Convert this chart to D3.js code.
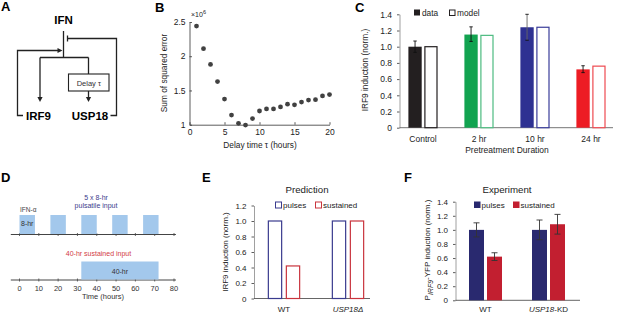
<!DOCTYPE html>
<html><head><meta charset="utf-8">
<script src="https://cdn.jsdelivr.net/npm/d3@7/dist/d3.min.js"></script>
<style>
body{margin:0;background:#fff}
svg{display:block;font-family:"Liberation Sans",Arial,Helvetica,sans-serif}
</style>
</head><body>
<svg id="c" width="617" height="314"></svg>
<script>
// ---------------- DATA ----------------
const delayTimes = [1,2,3,4,5,6,7,8,9,10,11,12,13,14,15,16,17,18,19,20];
const sseValues  = [2.44,2.11,1.88,1.63,1.375,1.14,1.02,0.995,1.09,1.20,1.23,1.23,1.26,1.30,1.29,1.33,1.36,1.365,1.42,1.44];
const sseTicks = [1,1.5,2,2.5];
const delayTicks = [0,5,10,15,20];

const pretreatCategories = ["Control","2 hr","10 hr","24 hr"];
const dataValues  = [1.00,1.15,1.24,0.72];
const dataErrLow  = [0.93,1.065,1.08,0.68];
const dataErrHigh = [1.07,1.245,1.40,0.765];
const modelValues = [1.00,1.14,1.24,0.76];
const pretreatColors = ["#231f20","#12a350","#2e3192","#ed1c24"];
const modelStroke = ["#231f20","#4dbb80","#3a3d99","#ee4a50"];
const inductionTicksC = [0,0.2,0.4,0.6,0.8,1.0,1.2,1.4];

const pulseStarts = [0,16,32,48,64];
const pulseLength = 8;
const sustainedStart = 32;
const sustainedLength = 40;
const timeTicks = [0,10,20,30,40,50,60,70,80];

const predCategories = ["WT","USP18Δ"];
const predPulses = [1.0,1.0];
const predSustained = [0.42,1.0];
const predTicks = [0,0.2,0.4,0.6,0.8,1.0,1.2];

const expCategories = ["WT","USP18-KD"];
const expPulses = [1.0,1.0];
const expPulsesErr = [0.10,0.14];
const expSustained = [0.62,1.08];
const expSustainedErr = [0.055,0.14];
const expTicks = [0,0.2,0.4,0.6,0.8,1.0,1.2,1.4];

// ---------------- HELPERS ----------------
const svg = d3.select("#c");
const fmt1 = d => d === 0 ? "0" : d3.format(".1f")(d);
const AX = "#333", TX = "#222";

function panelLabel(t, x, y){
  svg.append("text").attr("x",x).attr("y",y).attr("font-size",13).attr("font-weight","bold").attr("fill","#000").text(t);
}
function styleAxis(g, fs){
  g.selectAll("path,line").attr("stroke",AX).attr("stroke-width",0.8);
  g.selectAll("text").attr("fill",TX).attr("font-size",fs).attr("font-family",null);
  g.attr("font-family",null);
}

// ---------------- PANEL A ----------------
(function(){
  panelLabel("A", 1, 11);
  const g = svg.append("g").attr("stroke","#222").attr("stroke-width",1.3).attr("fill","none");
  const line = pts => g.append("path").attr("d", d3.line()(pts));
  const arrow = (x,y,dir) => {
    let p;
    if(dir==="down") p=[[x-2.6,y-5],[x+2.6,y-5],[x,y]];
    else p=[[x-5,y-2.6],[x-5,y+2.6],[x,y]];
    svg.append("path").attr("d", d3.line()(p)+"Z").attr("fill","#222");
  };
  svg.append("text").attr("x",63.5).attr("y",23.5).attr("text-anchor","middle").attr("font-size",11.5).attr("font-weight","bold").text("IFN");
  line([[63.5,31],[63.5,57.5]]);
  // inhibition from USP18
  line([[67.5,35.5],[67.5,41.5]]);
  line([[67.5,38.5],[116.5,38.5],[116.5,115.5],[110.5,115.5]]);
  // feedback IRF9
  line([[23,115.5],[17.5,115.5],[17.5,50.5],[58,50.5]]);
  arrow(62.5,50.5,"right");
  // branch
  line([[40,57.5],[88.5,57.5]]);
  line([[40,57.5],[40,97]]); arrow(40,102,"down");
  line([[88.5,57.5],[88.5,74]]);
  g.append("rect").attr("x",68.5).attr("y",74).attr("width",40.5).attr("height",17).attr("stroke-width",1.1);
  svg.append("text").attr("x",88.8).attr("y",85.5).attr("text-anchor","middle").attr("font-size",7.5).attr("fill","#333").text("Delay τ");
  line([[88.5,91],[88.5,97]]); arrow(88.5,102,"down");
  svg.append("text").attr("x",38.5).attr("y",119.5).attr("text-anchor","middle").attr("font-size",11.5).attr("font-weight","bold").text("IRF9");
  svg.append("text").attr("x",90).attr("y",119.5).attr("text-anchor","middle").attr("font-size",11.5).attr("font-weight","bold").text("USP18");
})();

// ---------------- PANEL B ----------------
(function(){
  panelLabel("B", 155, 12);
  const x = d3.scaleLinear().domain([0,20]).range([189.5,329.5]);
  const y = d3.scaleLinear().domain([1,2.5]).range([124.7,22]);
  const gx = svg.append("g").attr("transform","translate(0,124.7)")
    .call(d3.axisBottom(x).tickValues(delayTicks).tickSizeInner(-2.5).tickSizeOuter(0).tickPadding(4).tickFormat(d3.format("")));
  styleAxis(gx, 8.5);
  const gy = svg.append("g").attr("transform","translate(189.5,0)")
    .call(d3.axisLeft(y).tickValues(sseTicks).tickSizeInner(-2.5).tickSizeOuter(0).tickPadding(4).tickFormat(d3.format("")));
  styleAxis(gy, 8.5);
  const t = svg.append("text").attr("x",191).attr("y",17).attr("font-size",7).attr("fill",TX);
  t.append("tspan").text("×10");
  t.append("tspan").attr("dy",-3).attr("font-size",5.5).text("6");
  svg.append("text").attr("transform","translate(167,73) rotate(-90)").attr("text-anchor","middle").attr("font-size",8.3).attr("fill",TX).text("Sum of squared error");
  svg.append("text").attr("x",260).attr("y",148).attr("text-anchor","middle").attr("font-size",8.3).attr("fill",TX).text("Delay time τ (hours)");
  svg.append("g").selectAll("circle").data(delayTimes).join("circle")
    .attr("cx",d=>x(d)).attr("cy",(d,i)=>y(sseValues[i])).attr("r",2.4).attr("fill","#414141");
})();

// ---------------- PANEL C ----------------
(function(){
  panelLabel("C", 355, 12);
  const y = d3.scaleLinear().domain([0,1.4]).range([127.7,14.3]);
  const x = d3.scaleBand().domain(pretreatCategories).range([395,619]).padding(0);
  const x0 = 399.5;
  const gy = svg.append("g").attr("transform",`translate(${x0},0)`)
    .call(d3.axisLeft(y).tickValues(inductionTicksC).tickSizeInner(2.5).tickSizeOuter(0).tickPadding(5).tickFormat(fmt1));
  styleAxis(gy, 8.5);
  gy.select(".domain").attr("stroke","#888");
  svg.append("line").attr("x1",x0).attr("x2",613).attr("y1",127.7).attr("y2",127.7).attr("stroke","#666").attr("stroke-width",0.9);
  const bw = 13.3, gap = 2.6;
  const g = svg.append("g");
  g.selectAll("rect.data").data(pretreatCategories).join("rect")
    .attr("x",d=>x(d)+x.bandwidth()/2-bw-gap/2).attr("width",bw)
    .attr("y",(d,i)=>y(dataValues[i])).attr("height",(d,i)=>y(0)-y(dataValues[i]))
    .attr("fill",(d,i)=>pretreatColors[i]);
  g.selectAll("rect.model").data(pretreatCategories).join("rect")
    .attr("x",d=>x(d)+x.bandwidth()/2+gap/2+0.6).attr("width",bw-1.2)
    .attr("y",(d,i)=>y(modelValues[i])).attr("height",(d,i)=>y(0)-y(modelValues[i]))
    .attr("fill","#fff").attr("stroke",(d,i)=>modelStroke[i]).attr("stroke-width",1.2);
  // error bars
  pretreatCategories.forEach((c,i)=>{
    const cx = x(c)+x.bandwidth()/2-bw/2-gap/2;
    const eg = g.append("g").attr("stroke","#111").attr("stroke-width",0.9);
    eg.append("line").attr("x1",cx).attr("x2",cx).attr("y1",y(dataErrLow[i])).attr("y2",y(dataErrHigh[i])).attr("stroke", i===2?"#666":"#111");
    [dataErrLow[i],dataErrHigh[i]].forEach(v=>eg.append("line").attr("x1",cx-1.7).attr("x2",cx+1.7).attr("y1",y(v)).attr("y2",y(v)));
  });
  // category labels
  svg.append("g").selectAll("text").data(pretreatCategories).join("text")
    .attr("x",d=>x(d)+x.bandwidth()/2).attr("y",142).attr("text-anchor","middle").attr("font-size",8.5).attr("fill",TX).text(d=>d);
  svg.append("text").attr("x",507).attr("y",153).attr("text-anchor","middle").attr("font-size",8.5).attr("fill",TX).text("Pretreatment Duration");
  svg.append("text").attr("transform","translate(368,70) rotate(-90)").attr("text-anchor","middle").attr("font-size",8.3).attr("fill",TX).text("IRF9 induction (norm.)");
  // legend
  svg.append("rect").attr("x",414).attr("y",9.5).attr("width",6).attr("height",6).attr("fill","#231f20");
  svg.append("text").attr("x",422).attr("y",15.5).attr("font-size",8.3).attr("fill",TX).text("data");
  svg.append("rect").attr("x",449.5).attr("y",10).attr("width",5.5).attr("height",5.5).attr("fill","#fff").attr("stroke","#231f20").attr("stroke-width",1);
  svg.append("text").attr("x",457).attr("y",15.5).attr("font-size",8.3).attr("fill",TX).text("model");
})();

// ---------------- PANEL D ----------------
(function(){
  panelLabel("D", 1, 182);
  const x = d3.scaleLinear().domain([0,80]).range([19.5,174]);
  const blue = "#a3c8ec";
  const axisY = [234.5, 280];
  axisY.forEach((ay,k)=>{
    svg.append("line").attr("x1",x(-4.5)).attr("x2",x(81)).attr("y1",ay).attr("y2",ay).attr("stroke","#444").attr("stroke-width",1);
    svg.append("g").selectAll("line").data(timeTicks).join("line")
      .attr("x1",d=>x(d)).attr("x2",d=>x(d)).attr("y1",ay-1.5).attr("y2",ay+1.5).attr("stroke","#444").attr("stroke-width",0.8);
  });
  svg.append("g").selectAll("rect").data(pulseStarts).join("rect")
    .attr("x",d=>x(d)).attr("width",d=>x(d+pulseLength)-x(d)).attr("y",215).attr("height",axisY[0]-215-0.5).attr("fill",blue);
  svg.append("rect").attr("x",x(sustainedStart)).attr("width",x(sustainedStart+sustainedLength)-x(sustainedStart))
    .attr("y",261.5).attr("height",axisY[1]-261.5-0.5).attr("fill",blue);
  svg.append("g").selectAll("text").data(timeTicks).join("text")
    .attr("x",d=>x(d)).attr("y",290.5).attr("text-anchor","middle").attr("font-size",7.5).attr("fill","#333").text(d=>d);
  svg.append("text").attr("x",103).attr("y",299).attr("text-anchor","middle").attr("font-size",7.5).attr("fill","#333").text("Time (hours)");
  svg.append("text").attr("x",20).attr("y",212).attr("font-size",6.5).attr("fill","#444").text("IFN-α");
  svg.append("text").attr("x",x(pulseLength/2)).attr("y",226).attr("text-anchor","middle").attr("font-size",7).attr("fill","#333").text("8-hr");
  svg.append("text").attr("x",x(sustainedStart+sustainedLength/2)).attr("y",273.5).attr("text-anchor","middle").attr("font-size",7).attr("fill","#333").text("40-hr");
  svg.append("text").attr("x",96).attr("y",200).attr("text-anchor","middle").attr("font-size",7).attr("fill","#3c3c8c").text("5 x 8-hr");
  svg.append("text").attr("x",96).attr("y",208).attr("text-anchor","middle").attr("font-size",7).attr("fill","#3c3c8c").text("pulsatile input");
  svg.append("text").attr("x",98.5).attr("y",256).attr("text-anchor","middle").attr("font-size",7).attr("fill","#d23c45").text("40-hr sustained input");
})();

// ---------------- PANEL E ----------------
(function(){
  panelLabel("E", 202, 182);
  const y = d3.scaleLinear().domain([0,1.2]).range([298.5,205.5]);
  const x = d3.scaleBand().domain(predCategories).range([252,380]);
  const x0 = 254;
  const gy = svg.append("g").attr("transform",`translate(${x0},0)`)
    .call(d3.axisLeft(y).tickValues(predTicks).tickSizeInner(2.5).tickSizeOuter(0).tickPadding(5).tickFormat(fmt1));
  styleAxis(gy, 8);
  gy.select(".domain").attr("stroke","#888");
  svg.append("line").attr("x1",x0).attr("x2",370).attr("y1",298.5).attr("y2",298.5).attr("stroke","#555").attr("stroke-width",0.9);
  const bw = 14.5, gap = 3.5;
  const blue="#3a3b8e", red="#c9343d";
  svg.append("g").selectAll("rect").data(predCategories).join("rect")
    .attr("x",d=>x(d)+x.bandwidth()/2-bw-gap/2+0.6).attr("width",bw-1.2)
    .attr("y",(d,i)=>y(predPulses[i])).attr("height",(d,i)=>y(0)-y(predPulses[i]))
    .attr("fill","#fff").attr("stroke",blue).attr("stroke-width",1.2);
  svg.append("g").selectAll("rect").data(predCategories).join("rect")
    .attr("x",d=>x(d)+x.bandwidth()/2+gap/2+0.6).attr("width",bw-1.2)
    .attr("y",(d,i)=>y(predSustained[i])).attr("height",(d,i)=>y(0)-y(predSustained[i]))
    .attr("fill","#fff").attr("stroke",red).attr("stroke-width",1.2);
  svg.append("text").attr("x",307).attr("y",193).attr("text-anchor","middle").attr("font-size",9.7).attr("fill",TX).text("Prediction");
  svg.append("rect").attr("x",275.5).attr("y",202).attr("width",6).attr("height",6).attr("fill","#fff").attr("stroke",blue).attr("stroke-width",1);
  svg.append("text").attr("x",283).attr("y",208).attr("font-size",8).attr("fill",TX).text("pulses");
  svg.append("rect").attr("x",315.5).attr("y",202).attr("width",6).attr("height",6).attr("fill","#fff").attr("stroke",red).attr("stroke-width",1);
  svg.append("text").attr("x",323).attr("y",208).attr("font-size",8).attr("fill",TX).text("sustained");
  svg.append("text").attr("x",x("WT")+x.bandwidth()/2).attr("y",312).attr("text-anchor","middle").attr("font-size",8).attr("fill",TX).text("WT");
  svg.append("text").attr("x",x("USP18Δ")+x.bandwidth()/2).attr("y",312).attr("text-anchor","middle").attr("font-size",8).attr("fill",TX).attr("font-style","italic").text("USP18Δ");
  svg.append("text").attr("transform","translate(228,252) rotate(-90)").attr("text-anchor","middle").attr("font-size",8).attr("fill",TX).text("IRF9 induction (norm.)");
})();

// ---------------- PANEL F ----------------
(function(){
  panelLabel("F", 404, 182);
  const y = d3.scaleLinear().domain([0,1.4]).range([300.3,201.7]);
  const x = d3.scaleBand().domain(expCategories).range([454,580]);
  const x0 = 455.5;
  const gy = svg.append("g").attr("transform",`translate(${x0},0)`)
    .call(d3.axisLeft(y).tickValues(expTicks).tickSizeInner(2.5).tickSizeOuter(0).tickPadding(5).tickFormat(fmt1));
  styleAxis(gy, 8);
  gy.select(".domain").attr("stroke","#888");
  svg.append("line").attr("x1",x0).attr("x2",580).attr("y1",300.3).attr("y2",300.3).attr("stroke","#555").attr("stroke-width",0.9);
  const bw = 15, gap = 3;
  const navy="#29296f", red="#c21f30";
  svg.append("g").selectAll("rect").data(expCategories).join("rect")
    .attr("x",d=>x(d)+x.bandwidth()/2-bw-gap/2).attr("width",bw)
    .attr("y",(d,i)=>y(expPulses[i])).attr("height",(d,i)=>y(0)-y(expPulses[i])).attr("fill",navy);
  svg.append("g").selectAll("rect").data(expCategories).join("rect")
    .attr("x",d=>x(d)+x.bandwidth()/2+gap/2).attr("width",bw)
    .attr("y",(d,i)=>y(expSustained[i])).attr("height",(d,i)=>y(0)-y(expSustained[i])).attr("fill",red);
  expCategories.forEach((c,i)=>{
    const specs = [[x(c)+x.bandwidth()/2-bw/2-gap/2, expPulses[i], expPulsesErr[i]],
                   [x(c)+x.bandwidth()/2+bw/2+gap/2, expSustained[i], expSustainedErr[i]]];
    specs.forEach(([cx,v,e])=>{
      const eg = svg.append("g").attr("stroke","#333").attr("stroke-width",0.9);
      eg.append("line").attr("x1",cx).attr("x2",cx).attr("y1",y(v-e)).attr("y2",y(v+e));
      [v-e,v+e].forEach(w=>eg.append("line").attr("x1",cx-3).attr("x2",cx+3).attr("y1",y(w)).attr("y2",y(w)));
    });
  });
  svg.append("text").attr("x",507).attr("y",193).attr("text-anchor","middle").attr("font-size",9.7).attr("fill",TX).text("Experiment");
  svg.append("rect").attr("x",474).attr("y",201.5).attr("width",6.5).attr("height",6.5).attr("fill",navy);
  svg.append("text").attr("x",481.5).attr("y",208).attr("font-size",8).attr("fill",TX).text("pulses");
  svg.append("rect").attr("x",513).attr("y",201.5).attr("width",6.5).attr("height",6.5).attr("fill",red);
  svg.append("text").attr("x",520.5).attr("y",208).attr("font-size",8).attr("fill",TX).text("sustained");
  svg.append("text").attr("x",x("WT")+x.bandwidth()/2).attr("y",312).attr("text-anchor","middle").attr("font-size",8).attr("fill",TX).text("WT");
  const kd = svg.append("text").attr("x",x("USP18-KD")+x.bandwidth()/2).attr("y",312).attr("text-anchor","middle").attr("font-size",8).attr("fill",TX);
  kd.append("tspan").attr("font-style","italic").text("USP18");
  kd.append("tspan").text("-KD");
  const yl = svg.append("text").attr("transform","translate(430,250) rotate(-90)").attr("text-anchor","middle").attr("font-size",8).attr("fill",TX);
  yl.append("tspan").text("P");
  yl.append("tspan").attr("dy",2.5).attr("font-size",7).attr("font-style","italic").text("IRF9");
  yl.append("tspan").attr("dy",-2.5).text("-YFP induction (norm.)");
})();
</script>
</body></html>
